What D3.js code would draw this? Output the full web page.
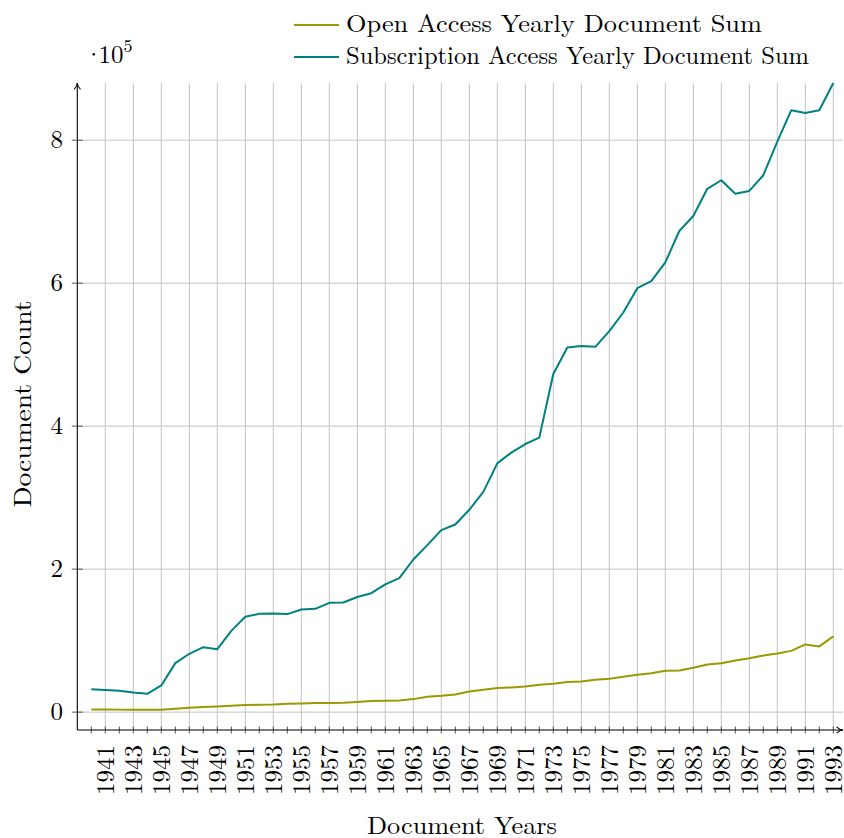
<!DOCTYPE html>
<html>
<head>
<meta charset="utf-8">
<script src="https://cdn.jsdelivr.net/npm/d3@7"></script>
<style>
  body { margin: 0; background: #fff; }
  text { font-family: "Latin Modern Roman", "CMU Serif", "Liberation Serif", serif; fill: #000; }
</style>
</head>
<body>
<div id="chart"></div>
<script>
// Years on the x axis
var years = d3.range(1940, 1994);

// Yearly document sums
var openAccess = [3700, 3700, 3500, 3400, 3300, 3300, 4700, 6100, 7000, 7900,
    8900, 9800, 10300, 10700, 11700, 12100, 12600, 12600, 13100, 14200,
    15400, 15900, 16300, 18200, 21400, 22800, 24700, 28900, 31200, 33600,
    34500, 35900, 38200, 39600, 42000, 42900, 45200, 46600, 49600, 52400,
    54500, 57800, 58300, 62000, 66700, 68500, 72300, 75500, 79300, 82100,
    85700, 94700, 91900, 105900];

var subscription = [32000, 31000, 30000, 27500, 25600, 37300, 68500, 81600, 90900, 88100,
    113700, 133300, 137500, 138000, 137100, 143600, 144500, 152900, 153400, 161000,
    166400, 178600, 187400, 213500, 233600, 254500, 262500, 283000, 308000, 348000,
    363000, 375000, 384000, 473000, 510000, 512000, 511000, 533000, 559000, 593000,
    603000, 629000, 673000, 694000, 732000, 744000, 725000, 729000, 751000, 798000,
    842000, 838000, 842000, 880000];

var yTicks = [0, 200000, 400000, 600000, 800000];
var xLabelYears = d3.range(1941, 1994, 2);

var seriesNames = ["Open Access Yearly Document Sum", "Subscription Access Yearly Document Sum"];
var seriesColors = ["#999900", "#008080"];

var width = 844, height = 838;

var x = d3.scaleLinear().domain([1939, 1993]).range([77.3, 833.3]);
var y = d3.scaleLinear().domain([-25000, 880000]).range([730, 83]);
var xEnd = 843;

var svg = d3.select("#chart").append("svg")
    .attr("width", width)
    .attr("height", height);

// arrow heads for the axes
var defs = svg.append("defs");
defs.append("marker")
    .attr("id", "arrow")
    .attr("viewBox", "0 0 10 10")
    .attr("refX", 9).attr("refY", 5)
    .attr("markerWidth", 8).attr("markerHeight", 8)
    .attr("markerUnits", "userSpaceOnUse")
    .attr("orient", "auto")
    .append("path")
    .attr("d", "M1,1 Q5,5 9,5 Q5,5 1,9")
    .attr("fill", "none")
    .attr("stroke", "#000")
    .attr("stroke-width", 1.3);

// grid
svg.append("g")
    .selectAll("line")
    .data(xLabelYears)
    .enter().append("line")
    .attr("x1", d => x(d)).attr("x2", d => x(d))
    .attr("y1", y.range()[0]).attr("y2", y.range()[1])
    .attr("stroke", "#c4c4c4")
    .attr("stroke-width", 1);

svg.append("g")
    .selectAll("line")
    .data(yTicks)
    .enter().append("line")
    .attr("x1", x.range()[0]).attr("x2", xEnd)
    .attr("y1", d => y(d)).attr("y2", d => y(d))
    .attr("stroke", "#c4c4c4")
    .attr("stroke-width", 1);

// ticks
svg.append("g")
    .selectAll("line")
    .data(years)
    .enter().append("line")
    .attr("x1", d => x(d)).attr("x2", d => x(d))
    .attr("y1", y.range()[0] - 3.5).attr("y2", y.range()[0] + 3.5)
    .attr("stroke", "#404040")
    .attr("stroke-width", 0.9);

svg.append("g")
    .selectAll("line")
    .data(yTicks)
    .enter().append("line")
    .attr("x1", x.range()[0] - 5.5).attr("x2", x.range()[0] + 5.5)
    .attr("y1", d => y(d)).attr("y2", d => y(d))
    .attr("stroke", "#404040")
    .attr("stroke-width", 0.9);

// axis lines
svg.append("line")
    .attr("x1", x.range()[0]).attr("x2", x.range()[0])
    .attr("y1", y.range()[0]).attr("y2", y.range()[1])
    .attr("stroke", "#000").attr("stroke-width", 1.1)
    .attr("marker-end", "url(#arrow)");

svg.append("line")
    .attr("x1", x.range()[0]).attr("x2", xEnd)
    .attr("y1", y.range()[0]).attr("y2", y.range()[0])
    .attr("stroke", "#000").attr("stroke-width", 1.1)
    .attr("marker-end", "url(#arrow)");

// lines
var line = d3.line()
    .x((d, i) => x(years[i]))
    .y(d => y(d));

[openAccess, subscription].forEach(function(s, i) {
    svg.append("path")
        .datum(s)
        .attr("fill", "none")
        .attr("stroke", seriesColors[i])
        .attr("stroke-width", 2)
        .attr("stroke-linejoin", "round")
        .attr("d", line);
});

// tick labels
svg.append("g")
    .selectAll("text")
    .data(xLabelYears)
    .enter().append("text")
    .attr("transform", d => "translate(" + x(d) + "," + 745 + ") rotate(-90)")
    .attr("dy", "0.33em")
    .attr("text-anchor", "end")
    .style("font-size", "25px")
    .text(d => d);

svg.append("g")
    .selectAll("text")
    .data(yTicks)
    .enter().append("text")
    .attr("x", 63)
    .attr("y", d => y(d))
    .attr("dy", "0.33em")
    .attr("text-anchor", "end")
    .style("font-size", "25px")
    .text(d => d / 100000);

// scale factor
var sf = svg.append("text")
    .attr("x", 84).attr("y", 63)
    .style("font-size", "25px");
sf.append("tspan").attr("dx", "0 -5 0").text("\u00b710");
sf.append("tspan")
    .attr("dy", -11)
    .style("font-size", "18px")
    .text("5");

// axis titles
svg.append("text")
    .attr("x", 462).attr("y", 834)
    .attr("text-anchor", "middle")
    .attr("textLength", 190)
    .attr("lengthAdjust", "spacingAndGlyphs")
    .style("font-size", "25px")
    .text("Document Years");

svg.append("text")
    .attr("transform", "translate(31,404) rotate(-90)")
    .attr("text-anchor", "middle")
    .attr("textLength", 207)
    .attr("lengthAdjust", "spacingAndGlyphs")
    .style("font-size", "25px")
    .text("Document Count");

// legend
var legendWidths = [416, 463];
seriesNames.forEach(function(name, i) {
    var ly = 25 + i * 32;
    svg.append("line")
        .attr("x1", 294).attr("x2", 339)
        .attr("y1", ly).attr("y2", ly)
        .attr("stroke", seriesColors[i])
        .attr("stroke-width", 2);
    svg.append("text")
        .attr("x", 346).attr("y", ly + 7)
        .attr("textLength", legendWidths[i])
        .attr("lengthAdjust", "spacingAndGlyphs")
        .style("font-size", "25px")
        .text(name);
});
</script>
</body>
</html>
